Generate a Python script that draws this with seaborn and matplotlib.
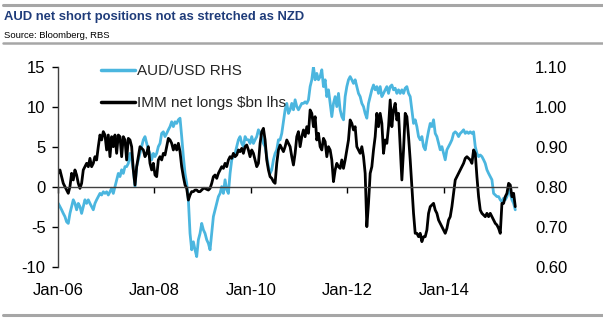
import numpy as np
import pandas as pd
import matplotlib
matplotlib.use("Agg")
import matplotlib.pyplot as plt
import matplotlib.dates as mdates
from matplotlib.lines import Line2D
import seaborn as sns

# ---- data ----
imm_net_longs = [
    1.71, 2.13, 1.29, 0.46, 0.04, -0.38, -0.79, 0.04, 1.71, 0.88, 2.13, 1.5, 0.46, -0.17, 0.46,
    2.13, 2.54, 2.96, 2.54, 3.58, 2.54, 2.96, 3.79, 3.38, 5.04, 6.5, 5.88, 6.92, 6.5, 4.63,
    6.5, 3.79, 6.29, 5.04, 6.5, 4.21, 6.5, 6.29, 3.79, 6.29, 5.88, 3.38, 6.08,
    5.88, 5.04, 2.13, 0.25, 2.54, 3.79, 5.04, 4.83, 4.63, 3.79, 4.21, 5.04, 2.96, 2.13, 2.96,
    1.5, 1.29, 3.38, 3.79, 3.38, 4.21, 4.0, 5.04, 6.08, 5.88, 5.46, 4.63, 5.25, 4.63, 5.46,
    4.42, 2.54, 1.29, 0.25, -0.17, -1.63, -1.0, -0.58, -0.58, -0.38, -0.38, -0.58, -0.58, -0.38, -0.17,
    -0.17, -0.29, -0.38, -0.17, 0.46, 1.29, 1.5, 1.08, 1.71, 2.13, 2.54, 2.33, 2.96, 2.54, 3.38,
    3.79, 3.58, 4.21, 3.79, 4.0, 4.63, 4.42, 4.83, 4.21, 5.04, 5.25, 4.63, 3.79, 4.63, 4.21,
    3.38, 2.54, 2.96, 5.46, 6.92, 7.33, 5.88, 3.38, 2.13, 1.29, 1.08, 0.67, 0.46, 2.96, 4.63,
    5.25, 4.83, 4.42, 5.04, 5.88, 5.46, 5.04, 3.79, 2.75, 4.21, 6.29, 6.92, 5.04, 6.29, 7.13,
    6.29, 7.54, 6.71, 9.63, 9.21, 7.54, 8.79, 5.88, 6.71, 5.04, 4.63, 6.08, 5.67, 3.79, 5.04,
    4.63, 3.38, 0.67, 2.13, 2.96, 2.54, 2.33, 3.38, 2.33, 3.38, 4.63, 5.88, 8.38, 7.96, 7.13,
    7.54, 5.04, 4.63, 4.21, 5.04, 3.79, 1.71, -4.96, -2.04, 1.71, 2.54, 4.63, 6.29, 9.21, 7.54,
    9.21, 7.96, 4.21, 5.88, 5.46, 7.54, 10.88, 7.54, 9.63, 10.46, 8.38, 9.21, 5.04, 0.88, 4.63,
    9.21, 8.79, 6.29, 3.38, 0.04, -3.29, -5.79, -5.79, -6.21, -5.79, -6.83, -6.21, -6.21, -5.38, -3.29,
    -2.46, -2.25, -2.04, -2.88, -3.29, -4.13, -4.54, -4.96, -5.38, -5.79, -5.17, -4.13, -3.71, -2.46,
    -0.79, 0.88, 1.29, 1.71, 2.13, 2.54, 2.96, 3.58, 3.79, 3.58, 3.38, 2.96, 4.63, 4.21, 1.29,
    -1.21, -2.88, -3.29, -3.5, -3.71, -3.29, -3.71, -3.29, -3.71, -4.13, -4.54, -4.75, -5.17, -5.79,
    -2.04, -2.04, -1.21, -0.79, 0.46, 0.25, -1.21, -0.79, -2.46,
]

aud_usd = [
    0.759, 0.751, 0.743, 0.734, 0.726, 0.713, 0.709, 0.734, 0.751, 0.768, 0.759, 0.743, 0.759, 0.751, 0.734,
    0.751, 0.768, 0.759, 0.768, 0.759, 0.751, 0.743, 0.759, 0.768, 0.776, 0.784, 0.780, 0.788, 0.784, 0.788,
    0.780, 0.788, 0.797, 0.784, 0.801, 0.818, 0.834, 0.826, 0.843, 0.834, 0.851, 0.851, 0.859,
    0.884, 0.868, 0.843, 0.801, 0.851, 0.868, 0.884, 0.901, 0.918, 0.926, 0.909, 0.893, 0.884, 0.868, 0.884,
    0.876, 0.884, 0.901, 0.909, 0.934, 0.938, 0.926, 0.934, 0.943, 0.951, 0.963, 0.951, 0.963, 0.959, 0.968,
    0.972, 0.926, 0.876, 0.834, 0.809, 0.768, 0.684, 0.643, 0.663, 0.643, 0.626, 0.668, 0.684, 0.709, 0.693,
    0.684, 0.668, 0.659, 0.643, 0.684, 0.726, 0.743, 0.759, 0.776, 0.784, 0.801, 0.784, 0.818, 0.793, 0.784,
    0.834, 0.868, 0.876, 0.884, 0.901, 0.918, 0.926, 0.909, 0.901, 0.926, 0.918, 0.918, 0.909, 0.926, 0.909,
    0.918, 0.926, 0.943, 0.934, 0.926, 0.909, 0.901, 0.876, 0.851, 0.834, 0.843, 0.868, 0.884, 0.893, 0.918,
    0.918, 0.934, 0.963, 0.993, 1.009, 0.984, 0.993, 1.009, 0.993, 1.018, 1.001, 0.993, 1.001, 1.009, 1.009,
    1.013, 1.009, 1.018, 1.051, 1.068, 1.101, 1.068, 1.084, 1.068, 1.076, 1.093, 1.051, 1.068, 1.026, 1.043,
    1.009, 0.976, 1.009, 1.026, 1.001, 1.034, 0.993, 0.976, 0.968, 1.026, 1.051, 1.068, 1.076, 1.068, 1.059,
    1.068, 1.051, 1.034, 1.026, 1.009, 1.001, 0.984, 0.972, 1.009, 1.026, 1.043, 1.055, 1.043, 1.051, 1.034,
    1.051, 1.026, 1.034, 1.043, 1.051, 1.034, 1.051, 1.055, 1.043, 1.047, 1.034, 1.043, 1.034, 1.043, 1.034,
    1.047, 1.051, 1.034, 1.026, 0.993, 0.959, 0.968, 0.951, 0.926, 0.918, 0.926, 0.901, 0.893, 0.918, 0.940,
    0.959, 0.951, 0.968, 0.934, 0.926, 0.909, 0.893, 0.901, 0.884, 0.868, 0.893, 0.901, 0.909, 0.918,
    0.934, 0.938, 0.934, 0.926, 0.934, 0.938, 0.943, 0.934, 0.938, 0.934, 0.938, 0.934, 0.938, 0.901, 0.884,
    0.876, 0.880, 0.876, 0.868, 0.859, 0.843, 0.834, 0.826, 0.818, 0.784, 0.780, 0.776, 0.776, 0.768,
    0.763, 0.772, 0.768, 0.776, 0.793, 0.784, 0.768, 0.759, 0.743,
]

first_date = "2006-01-03"
last_date = "2015-06-25"
x_ticks = ["2006-01-01", "2008-01-01", "2010-01-01", "2012-01-01", "2014-01-01"]
left_ticks = [-10, -5, 0, 5, 10, 15]
right_ticks = [0.60, 0.70, 0.80, 0.90, 1.00, 1.10]
series_labels = ["AUD/USD RHS", "IMM net longs $bn lhs"]
title = "AUD net short positions not as stretched as NZD"
source = "Source: Bloomberg, RBS"

dates = pd.date_range(first_date, last_date, periods=len(imm_net_longs))
df = pd.DataFrame({"date": dates, "imm": imm_net_longs, "aud": aud_usd})

BLUE = "#4BB6DF"
NAVY = "#1F3C7A"
GRAY = "#A6A6A6"

sns.set_theme(style="white")
plt.rcParams["font.family"] = ["Liberation Sans", "DejaVu Sans"]

W, H = 603, 322
fig = plt.figure(figsize=(W / 100, H / 100), dpi=100)
ax = fig.add_axes([58 / W, 55 / H, (517 - 58) / W, 200 / H])
ax2 = ax.twinx()

sns.lineplot(data=df, x="date", y="aud", ax=ax2, color=BLUE, lw=2.0)
sns.lineplot(data=df, x="date", y="imm", ax=ax, color="black", lw=2.0)

ax.set_zorder(ax2.get_zorder() + 1)
ax.patch.set_visible(False)

ax.set_xlim(pd.Timestamp("2006-01-01"), pd.Timestamp("2015-07-08"))
ax.set_ylim(-10, 15)
ax2.set_ylim(0.60, 1.10)

ax.set_xlabel("")
ax.set_ylabel("")
ax2.set_ylabel("")

# left axis
ax.set_yticks(left_ticks)
ax.set_yticklabels([str(t) for t in left_ticks])
ax.tick_params(axis="y", left=True, direction="out", length=4, width=1, pad=5,
               labelsize=12, colors="black")
# x axis drawn at zero
ax.spines["bottom"].set_position(("data", 0))
ax.set_xticks([pd.Timestamp(t) for t in x_ticks])
ax.xaxis.set_major_formatter(mdates.DateFormatter("%b-%y"))
ax.tick_params(axis="x", bottom=True, direction="out", length=4, width=1, pad=65,
               labelsize=12, colors="black")
for s in ["top", "right"]:
    ax.spines[s].set_visible(False)
for s in ["left", "bottom"]:
    ax.spines[s].set_color("#404040")
    ax.spines[s].set_linewidth(1.0)

# right axis
ax2.set_yticks(right_ticks)
ax2.set_yticklabels([f"{t:.2f}" for t in right_ticks])
ax2.tick_params(axis="y", right=False, length=0, pad=13, labelsize=12, colors="black")
for s in ax2.spines.values():
    s.set_visible(False)

# legend
handles = [Line2D([0], [0], color=BLUE, lw=2.5), Line2D([0], [0], color="black", lw=2.5)]
ax.legend(handles, series_labels, loc="upper left", bbox_to_anchor=(101 / W, 1 - 64 / H),
          bbox_transform=fig.transFigure, frameon=False, fontsize=11, handlelength=2.2,
          handletextpad=0.15, labelspacing=1.2, borderpad=0, borderaxespad=0)

# header / footer
fig.text(4 / W, 1 - 17 / H, title, fontsize=9.4, fontweight="bold", color=NAVY,
         ha="left", va="center")
fig.text(4 / W, 1 - 36 / H, source, fontsize=6.8, color="black", ha="left", va="center")
for y, lw in [(5, 2.2), (43, 1.8), (315, 2.2)]:
    fig.add_artist(Line2D([3 / W, 1], [1 - y / H, 1 - y / H], transform=fig.transFigure,
                          color=GRAY, lw=lw))

fig.savefig("out.png", dpi=100)
